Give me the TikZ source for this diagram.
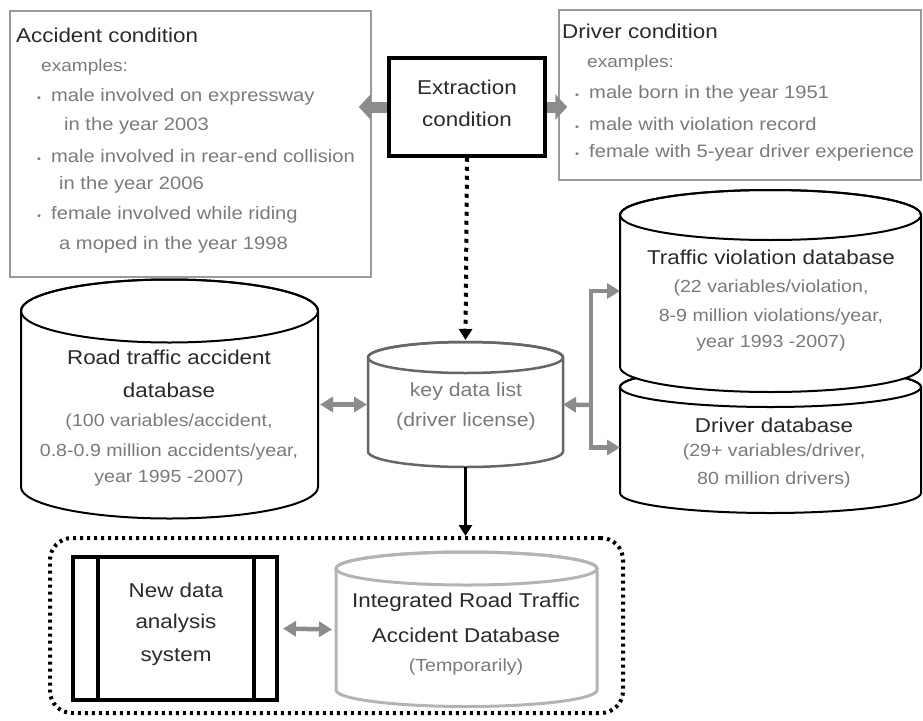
\documentclass[tikz,border=0pt]{standalone}
\usepackage{fontspec}
\setmainfont{Liberation Sans}[FakeStretch=1.12]
\usetikzlibrary{arrows.meta}
\definecolor{txtdark}{HTML}{2A2A2A}
\definecolor{txtgray}{HTML}{7A7A7A}
\definecolor{boxgray}{HTML}{9A9A9A}
\definecolor{arrgray}{HTML}{8C8C8C}
\definecolor{keygray}{HTML}{666666}
\definecolor{intgray}{HTML}{B4B4B4}
\newcommand{\bulmark}{\makebox[14pt][l]{\fontsize{10}{10}\selectfont •}}
% cylinder: #1 style, #2 x1, #3 x2, #4 y top centre, #5 y bottom centre, #6 ry
\newcommand{\dbcyl}[6]{%
  \pgfmathsetmacro\cylrx{(#3-#2)/2}%
  \pgfmathsetmacro\cylcx{(#3+#2)/2}%
  \draw[#1,fill=white] (#2,#4) -- (#2,#5)
    arc[start angle=180,end angle=360,x radius=\cylrx pt,y radius=#6pt]
    -- (#3,#4)
    arc[start angle=0,end angle=180,x radius=\cylrx pt,y radius=#6pt] -- cycle;
  \draw[#1] (\cylcx,#4) ellipse[x radius=\cylrx pt,y radius=#6pt];
}
\tikzset{
  ttl/.style={font=\fontsize{20}{24}\selectfont, text=txtdark, inner sep=0},
  dtl/.style={font=\fontsize{17.5}{21}\selectfont, text=txtgray, inner sep=0},
  itm/.style={font=\fontsize{18}{22}\selectfont, text=txtgray, inner sep=0, anchor=west},
  ghost/.style={inner sep=0, outer sep=0},
  garrow/.style={draw=arrgray, line width=4.5pt, -{Triangle[length=13pt,width=15pt]}},
  gdarrow/.style={draw=arrgray, line width=4.5pt, {Triangle[length=13pt,width=15pt]}-{Triangle[length=13pt,width=15pt]}},
  blockarrow/.style={draw=arrgray, line width=11pt, -{Triangle[length=12pt,width=25pt]}},
  dotarrow/.style={draw=black, line width=4pt, dash pattern=on 4pt off 5pt, -{Triangle[length=11pt,width=13pt]}},
  solidarrow/.style={draw=black, line width=3.5pt, -{Triangle[length=11pt,width=13pt]}},
}
\begin{document}
\begin{tikzpicture}[x=1pt,y=-1pt]
\useasboundingbox (0,0) rectangle (923,720);

% ---------- condition boxes ----------
\node[draw=boxgray, line width=1.5pt, minimum width=361pt, minimum height=266pt, inner sep=0] (accbox) at (190.5,144) {};
\node[ttl, anchor=west] (acct) at (16,35) {Accident condition};
\node[itm, font=\fontsize{17}{20}\selectfont] (acce) at (41,67) {examples:};
\node[itm] (acc1) at (37,97) {\bulmark male involved on expressway};
\node[itm] (acc1b) at (64,126) {in the year 2003};
\node[itm] (acc2) at (37,156) {\bulmark male involved in rear-end collision};
\node[itm] (acc2b) at (59,185) {in the year 2006};
\node[itm] (acc3) at (37,215) {\bulmark female involved while riding};
\node[itm] (acc3b) at (59,245) {a moped in the year 1998};

\node[draw=boxgray, line width=1.5pt, minimum width=362pt, minimum height=170pt, inner sep=0] (drvbox) at (740,95) {};
\node[ttl, anchor=west] (drvt) at (562,31) {Driver condition};
\node[itm, font=\fontsize{17}{20}\selectfont] (drve) at (587,63) {examples:};
\node[itm] (drv1) at (575,94) {\bulmark male born in the year 1951};
\node[itm] (drv2) at (575,124) {\bulmark male with violation record};
\node[itm] (drv3) at (575,153) {\bulmark female with 5-year driver experience};

% ---------- extraction ----------
\node[draw=black, line width=3.5pt, fill=white, minimum width=156pt, minimum height=98pt, inner sep=0] (extr) at (467,107) {};
\node[ttl] (extr1) at (467,87) {Extraction};
\node[ttl] (extr2) at (467,119) {condition};
\draw[blockarrow] (extr.west) -- ([xshift=-13pt]accbox.east |- extr.west);
\draw[blockarrow] (extr.east) -- ([xshift=9pt]drvbox.west |- extr.east);

% ---------- cylinders ----------
\dbcyl{draw=black, line width=2pt}{21}{318}{311}{487}{31.5}
\node[ghost, minimum width=297pt, minimum height=239pt] (road) at (169.5,398.5) {};
\node[ttl] (road1) at (169,357) {Road traffic accident};
\node[ttl] (road2) at (169,390) {database};
\node[dtl] (road3) at (169,422) {(100 variables/accident,};
\node[dtl] (road4) at (169,452) {0.8-0.9 million accidents/year,};
\node[dtl] (road5) at (169,478) {year 1995 -2007)};

\dbcyl{draw=keygray, line width=2.5pt}{368}{563}{357.5}{451.5}{15.5}
\node[ghost, minimum width=195pt, minimum height=125pt] (key) at (465.5,404.5) {};
\node[ttl, text=txtgray, font=\fontsize{19}{22}\selectfont] (key1) at (466,392) {key data list};
\node[ttl, text=txtgray, font=\fontsize{19}{22}\selectfont] (key2) at (466,422) {(driver license)};

\dbcyl{draw=black, line width=2pt}{620}{921}{387}{493}{20}
\dbcyl{draw=black, line width=2pt}{620}{921}{215}{367}{25}
\node[ghost, minimum width=301pt, minimum height=202pt] (traf) at (770.5,291) {};
\node[ghost, minimum width=301pt, minimum height=131pt] (drvdb) at (770.5,447.5) {};
\node[ttl] (traf1) at (771,257) {Traffic violation database};
\node[dtl] (traf2) at (771,288) {(22 variables/violation,};
\node[dtl] (traf3) at (771,317) {8-9 million violations/year,};
\node[dtl] (traf4) at (771,343) {year 1993 -2007)};
\node[ttl] (ddb1) at (774,425) {Driver database};
\node[dtl] (ddb2) at (774,452) {(29+ variables/driver,};
\node[dtl] (ddb3) at (774,480) {80 million drivers)};

% ---------- bottom group ----------
\node[draw=black, line width=4pt, dash pattern=on 3pt off 4pt, rounded corners=22pt, minimum width=573pt, minimum height=175pt, inner sep=0] (grp) at (336.5,625.5) {};
\node[draw=black, line width=4pt, minimum width=204pt, minimum height=143pt, inner sep=0] (nds) at (175,628.5) {};
\draw[line width=4pt] ([xshift=27pt]nds.north west) -- ([xshift=27pt]nds.south west);
\draw[line width=4pt] ([xshift=-25pt]nds.north east) -- ([xshift=-25pt]nds.south east);
\node[ttl] (nds1) at (176,590) {New data};
\node[ttl] (nds2) at (176,623) {analysis};
\node[ttl] (nds3) at (176,657) {system};

\dbcyl{draw=intgray, line width=3pt}{336}{597}{568.5}{690}{16.5}
\node[ghost, minimum width=261pt, minimum height=155pt] (integ) at (466.5,629.5) {};
\node[ttl] (int1) at (466,602) {Integrated Road Traffic};
\node[ttl] (int2) at (466,635) {Accident Database};
\node[dtl] (int3) at (466,667) {(Temporarily)};

% ---------- connectors ----------
\draw[dotarrow] (extr.south) -- ([yshift=2pt]key.north);
\draw[gdarrow, shorten <=2pt, shorten >=1pt] (road.east |- key.west) -- (key.west);
\coordinate (jn) at (591,405);
\draw[garrow] (jn) -- (key.east);
\draw[garrow] (jn) |- (traf.west);
\draw[garrow] (jn) |- (drvdb.west);
\draw[solidarrow] (key.south) -- (key.south |- grp.north);
\draw[gdarrow] ([xshift=4pt]nds.east) -- ([xshift=-4pt]integ.west);
\end{tikzpicture}
\end{document}
